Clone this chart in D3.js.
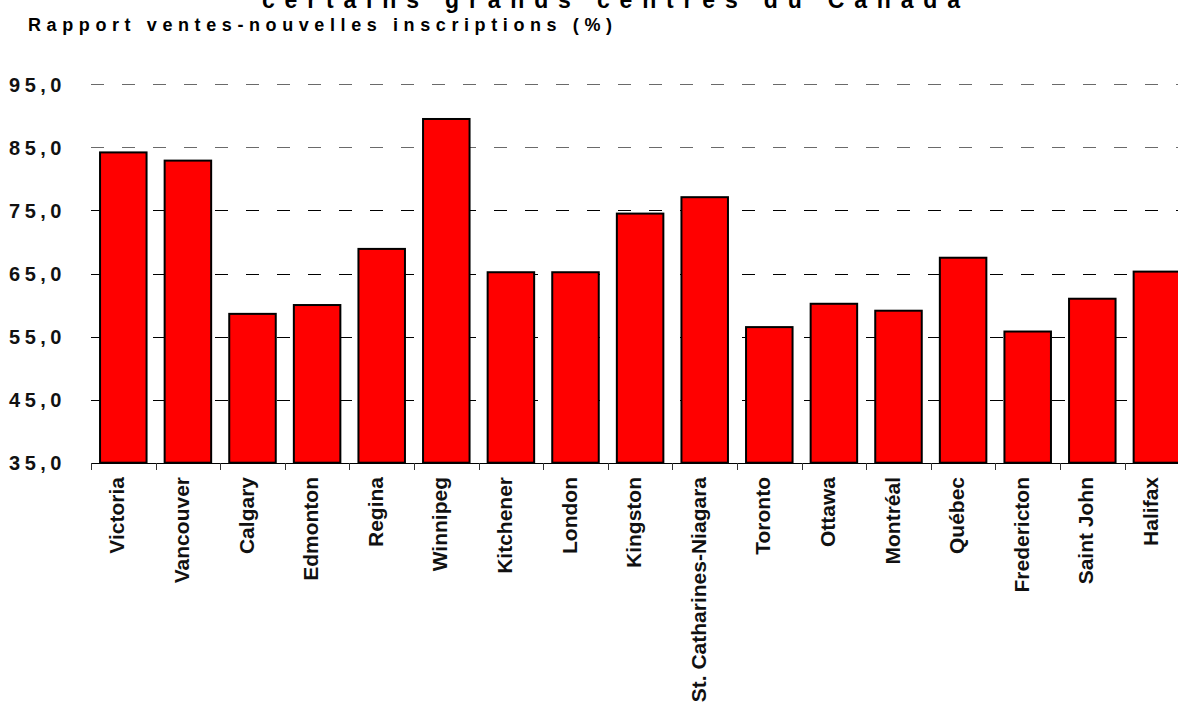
<!DOCTYPE html>
<html>
<head>
<meta charset="utf-8">
<script src="https://cdn.jsdelivr.net/npm/d3@7"></script>
<style>
  html, body { margin: 0; padding: 0; background: #fff; overflow: hidden; }
  svg { display: block; font-family: "Liberation Sans", Arial, sans-serif; }
</style>
</head>
<body>
<svg id="chart" width="1178" height="707"></svg>
<script>
const titleText = "certains grands centres du Canada";
const subtitleText = "Rapport ventes-nouvelles inscriptions (%)";
const categories = ["Victoria", "Vancouver", "Calgary", "Edmonton", "Regina", "Winnipeg",
  "Kitchener", "London", "Kingston", "St. Catharines-Niagara", "Toronto", "Ottawa",
  "Montréal", "Québec", "Fredericton", "Saint John", "Halifax"];
const values = [84.2, 82.9, 58.6, 60.0, 68.9, 89.5, 65.2, 65.2, 74.5, 77.1,
  56.5, 60.2, 59.1, 67.5, 55.8, 61.0, 65.3];
const yTicks = [35, 45, 55, 65, 75, 85, 95];
const yTickLabels = ["35,0", "45,0", "55,0", "65,0", "75,0", "85,0", "95,0"];

const svg = d3.select("#chart");
const plotLeft = 91, plotBottom = 462.7, plotTop = 84.3;
const step = 64.6;
const plotRight = plotLeft + step * categories.length;

const x = d3.scaleBand().domain(categories).range([plotLeft, plotRight])
  .paddingInner(0.28).paddingOuter(0.14);
const y = d3.scaleLinear().domain([35, 95]).range([plotBottom, plotTop]);

// title (partly cut off at the top, as in the reference) and subtitle
svg.append("text").attr("x", 262).attr("y", 8)
  .attr("textLength", 698).attr("lengthAdjust", "spacing")
  .style("font-size", "23px").style("font-weight", "bold").text(titleText);
svg.append("text").attr("x", 28).attr("y", 31)
  .attr("textLength", 584).attr("lengthAdjust", "spacing")
  .style("font-size", "18px").style("font-weight", "bold").text(subtitleText);

// gridlines
svg.append("g").selectAll("line").data(yTicks.filter(d => d > 35)).join("line")
  .attr("x1", plotLeft).attr("x2", plotRight)
  .attr("y1", d => Math.round(y(d)) + 0.5).attr("y2", d => Math.round(y(d)) + 0.5)
  .attr("stroke", d => d >= 85 ? "#6a6a6a" : "#000")
  .attr("stroke-width", 1.2)
  .attr("stroke-dasharray", "13,18");

// y tick labels
svg.append("g").selectAll("text").data(yTicks).join("text")
  .attr("x", 66).attr("y", d => y(d)).attr("dy", "0.36em")
  .attr("text-anchor", "end")
  .style("font-size", "20px").style("font-weight", "bold")
  .style("letter-spacing", "4.5px").style("fill", "#111")
  .text((d, i) => yTickLabels[i]);

// bars
svg.append("g").selectAll("rect").data(values).join("rect")
  .attr("x", (d, i) => x(categories[i]))
  .attr("y", d => y(d))
  .attr("width", x.bandwidth())
  .attr("height", d => plotBottom - y(d))
  .attr("fill", "#ff0000")
  .attr("stroke", "#000").attr("stroke-width", 2);

// x axis
const xa = svg.append("g");
xa.append("line").attr("x1", plotLeft).attr("x2", plotRight)
  .attr("y1", Math.round(plotBottom) + 0.5).attr("y2", Math.round(plotBottom) + 0.5)
  .attr("stroke", "#000").attr("stroke-width", 1.2);
const boundaries = d3.range(categories.length + 1).map(i => plotLeft + i * x.step());
xa.selectAll("line.tick").data(boundaries).join("line").attr("class", "tick")
  .attr("x1", d => Math.round(d) + 0.5).attr("x2", d => Math.round(d) + 0.5)
  .attr("y1", Math.round(plotBottom)).attr("y2", Math.round(plotBottom) + 7)
  .attr("stroke", "#333").attr("stroke-width", 1);

xa.selectAll("text").data(categories).join("text")
  .attr("transform", d => `translate(${x(d) + x.bandwidth() / 2 + 1},477) rotate(-90)`)
  .attr("text-anchor", "end")
  .style("font-size", "21px").style("font-weight", "bold").style("fill", "#111")
  .text(d => d);
</script>
</body>
</html>
